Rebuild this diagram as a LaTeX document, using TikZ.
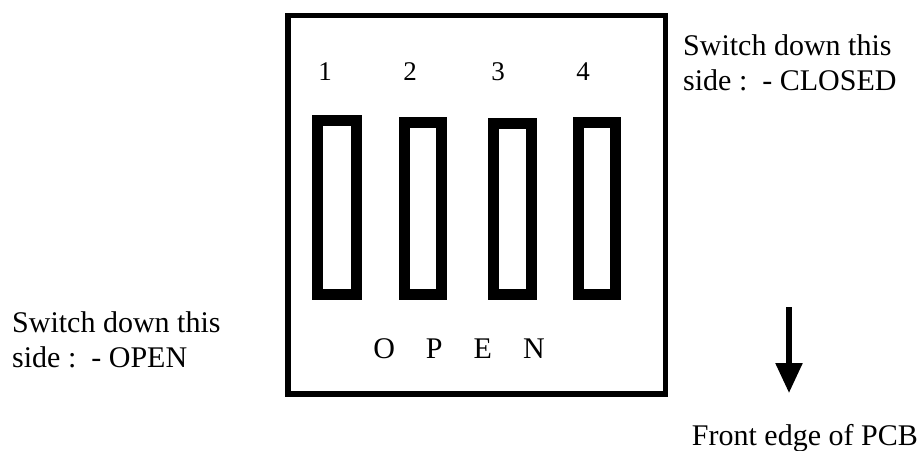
\documentclass[tikz,border=0pt]{standalone}
\usepackage{fontspec}
\setmainfont{Liberation Serif}
\usetikzlibrary{arrows.meta}
\tikzset{
  casebox/.style={draw=black, line width=5.5pt, rectangle, inner sep=0pt, fill=none},
  slotbox/.style={draw=black, line width=11pt, rectangle, inner sep=0pt, minimum width=38pt, minimum height=172pt},
  label/.style={inner sep=0pt, font=\fontsize{30pt}{35.5pt}\selectfont},
  numlabel/.style={inner sep=0pt, anchor=base, font=\fontsize{27pt}{32pt}\selectfont},
  pcbarrow/.style={line width=5.5pt, -{Triangle[width=26pt,length=30pt]}}
}
\begin{document}
\begin{tikzpicture}[x=1pt,y=-1pt]
\useasboundingbox (0,0) rectangle (920,450);
% case
\node[casebox, minimum width=377.5pt, minimum height=378.3pt] (case) at (476.75,204.85) {};
% switches
\node[slotbox, minimum width=39pt, minimum height=174pt] (sw1) at (337.3,207.5) {};
\node[slotbox, minimum width=36.7pt, minimum height=172.3pt] (sw2) at (423.2,208.4) {};
\node[slotbox, minimum width=38pt, minimum height=170.7pt] (sw3) at (512.8,209.2) {};
\node[slotbox, minimum width=37pt, minimum height=172.3pt] (sw4) at (596.7,208.4) {};
% numbers
\node[numlabel] (n1) at (325,80) {1};
\node[numlabel] (n2) at (410,80) {2};
\node[numlabel] (n3) at (498,80) {3};
\node[numlabel] (n4) at (583,80) {4};
% OPEN
\node[inner sep=0pt, anchor=base, font=\fontsize{30pt}{34pt}\selectfont] (open) at (459,358) {O\hspace{31pt}P\hspace{31pt}E\hspace{31pt}N};
% texts
\node[label, anchor=base west] (closedtxt) at (683,55) {\vtop{\baselineskip=35.5pt\hbox{Switch down this}\hbox{side :\ \ - CLOSED}}};
\node[label, anchor=base west] (opentxt) at (12,332) {\vtop{\baselineskip=35.5pt\hbox{Switch down this}\hbox{side :\ \ - OPEN}}};
\node[label, anchor=base east] (pcbtxt) at (918,445) {Front edge of PCB};
% arrow
\coordinate (arrtop) at (789,307);
\coordinate (arrtip) at (789,393);
\draw[pcbarrow] (arrtop) -- (arrtip);
\end{tikzpicture}
\end{document}
